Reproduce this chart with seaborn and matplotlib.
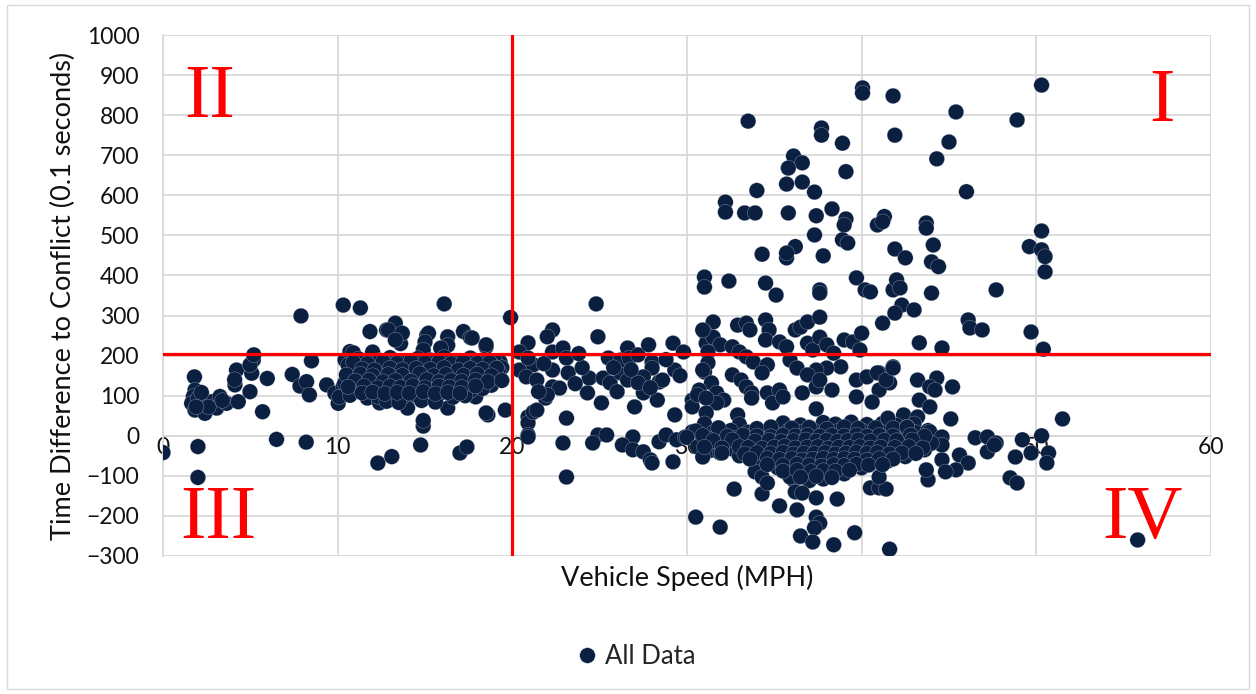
import matplotlib
matplotlib.use("Agg")
import matplotlib.pyplot as plt
import seaborn as sns
import pandas as pd
from matplotlib.patches import Rectangle

# (speed in MPH, time difference to conflict in 0.1 s)
slow_points = [
    (0.0, -42), (2.0, -27), (2.0, -104), (1.8, 147),
    (1.83, 114), (1.74, 98), (1.64, 81), (1.83, 64), (2.31, 81), (2.40, 56), (2.02, 94),
    (2.79, 85), (3.07, 69), (3.26, 98), (3.64, 81), (4.12, 127), (4.21, 164), (4.31, 85),
    (4.98, 110), (5.08, 156), (5.17, 189), (4.98, 177), (5.2, 202),
    (2.2, 108), (2.6, 72), (1.9, 72), (3.4, 88), (4.1, 140),
    (5.97, 143), (5.7, 60), (6.5, -9), (7.4, 153), (7.9, 299), (7.84, 124), (8.22, 135),
    (8.38, 102), (8.2, -16), (8.5, 187),
    (9.37, 127), (9.84, 106), (10.03, 81), (10.32, 123), (10.42, 189), (10.32, 326),
    (10.7, 210), (11.3, 319), (11.85, 260),
    (10.9, 207), (10.9, 114), (11.7, 94), (12.3, -68), (13.1, -52), (12.8, 264), (13.3, 281),
    (13.5, 245), (13.6, 230), (16.1, 329), (14.75, -23), (14.9, 24), (14.9, 38), (15.1, 251),
    (16.3, 247), (17.2, 260), (17.6, 245), (18.5, 222), (17.0, -43), (17.4, -28), (16.3, 69),
    (18.6, 52), (19.9, 295), (12.9, 264), (13.7, 256), (13.3, 239), (15.2, 256), (15.0, 234),
    (16.3, 226), (17.7, 244), (18.5, 227), (12.0, 209), (14.9, 214), (15.9, 219), (19.3, 184),
    (18.5, 57), (19.6, 64), (12.4, 82), (14.0, 69), (17.9, 97), (10.1, 97),
]

slow_band = [
    (11.2, 192), (12.4, 188), (13.0, 195), (13.8, 186), (14.6, 193), (15.3, 189), (16.1, 196),
    (16.8, 187), (17.6, 194), (18.4, 190), (19.0, 186),
    (10.6, 176), (11.8, 172), (12.9, 178), (13.5, 171), (14.2, 177), (15.0, 174), (15.7, 179),
    (16.5, 170), (17.3, 176), (18.0, 173), (18.8, 178), (19.4, 170),
    (11.0, 160), (12.2, 157), (12.7, 163), (13.3, 158), (13.9, 162), (14.5, 156), (15.2, 161),
    (15.9, 159), (16.6, 164), (17.0, 155), (17.8, 160), (18.6, 158), (19.2, 162),
    (10.8, 146), (11.5, 143), (12.5, 148), (13.1, 142), (13.6, 147), (14.3, 144), (14.9, 149),
    (15.6, 141), (16.3, 146), (16.9, 143), (17.5, 148), (18.2, 145), (19.0, 141),
    (10.4, 131), (11.3, 128), (12.0, 133), (12.8, 127), (13.4, 132), (14.0, 129), (14.7, 134),
    (15.4, 126), (16.0, 131), (16.7, 128), (17.4, 133), (18.1, 130), (18.8, 126),
    (11.0, 116), (11.9, 113), (12.6, 118), (13.2, 112), (13.9, 117), (14.6, 114), (15.3, 119),
    (16.0, 111), (16.8, 116), (17.6, 113), (18.3, 118),
    (10.7, 101), (12.3, 98), (13.0, 103), (13.7, 97), (14.4, 102), (15.1, 99), (15.8, 104),
    (16.6, 96), (17.3, 100),
    (12.8, 86), (13.5, 83), (14.8, 88), (15.6, 84),
]

slow_band_fill = [
    (10.9, 183), (11.7, 180), (12.6, 185), (13.4, 181), (14.2, 186), (15.0, 182), (15.8, 184),
    (16.5, 180), (17.2, 185), (18.0, 181), (18.7, 183),
    (11.4, 167), (12.1, 164), (13.0, 169), (13.7, 165), (14.5, 168), (15.3, 166), (16.1, 170),
    (16.9, 164), (17.6, 168), (18.3, 166), (19.1, 169),
    (10.5, 152), (11.3, 154), (12.0, 150), (12.9, 153), (13.7, 151), (14.7, 155), (15.5, 150),
    (16.2, 153), (17.2, 151), (18.0, 154), (18.8, 150),
    (11.0, 137), (11.8, 139), (12.6, 135), (13.3, 138), (14.2, 136), (15.1, 140), (15.8, 135),
    (16.5, 138), (17.1, 136), (17.9, 139), (18.6, 135), (19.4, 138),
    (10.6, 122), (11.5, 124), (12.3, 120), (13.0, 123), (13.6, 121), (14.3, 125), (15.0, 120),
    (15.8, 124), (16.4, 122), (17.1, 121), (17.9, 124),
    (11.4, 107), (12.0, 109), (12.7, 105), (13.4, 108), (14.1, 106), (14.9, 110), (15.6, 105),
    (16.3, 108), (17.0, 106),
]

mid_points = [
    (20.9, 232), (20.4, 164), (21.2, 177), (20.9, 47), (20.9, 32), (20.9, 2),
    (20.4, 209), (22.3, 264), (22.0, 247), (22.3, 209), (22.9, 219), (23.1, 194), (22.3, 164),
    (23.2, 157), (20.9, 194), (20.8, 147), (21.4, 139), (22.3, 122), (22.7, 119), (21.9, 94),
    (22.0, 102), (21.2, 59), (21.4, 64), (20.9, -3), (23.1, 44), (22.9, -18), (23.1, -103),
    (24.8, 329), (24.9, 247), (25.5, 194), (24.4, 144), (24.3, 107), (25.1, 82), (24.9, 2),
    (25.4, 2), (24.6, -18),
    (25.2, 144), (25.6, 132), (26.2, 157), (26.6, 139), (26.2, 189), (26.6, 219), (26.7, 194),
    (27.2, 202), (27.8, 227), (28.0, 184), (28.0, 169), (27.5, 147), (27.5, 107), (27.2, 132),
    (27.0, 72), (28.4, 134), (28.3, 89), (28.6, 139), (29.2, 231), (29.8, 209), (29.3, 164),
    (29.3, 52), (26.9, -3), (26.3, -23), (26.9, -35), (27.5, -40), (27.9, -60), (28.0, -68),
    (28.4, -15), (28.8, 2), (29.4, -10), (29.9, -3), (30.3, 10), (29.2, -65),
    (21.5, 110), (23.6, 130), (24.0, 170), (23.8, 205), (26.0, 110), (26.8, 165), (27.9, 120),
    (28.8, 190), (29.6, 150), (25.8, 170), (21.8, 180),
]

fast_upper = [
    (31.0, 396), (31.0, 371), (40.05, 868), (40.05, 855), (41.8, 848), (33.5, 785), (37.7, 768),
    (37.7, 750), (38.9, 730), (41.9, 750), (36.1, 698), (36.6, 681), (35.8, 668), (39.1, 659),
    (35.7, 628), (36.6, 633), (37.3, 608), (34.0, 612), (32.2, 583), (32.2, 558), (33.3, 556),
    (33.9, 556), (35.8, 556), (37.4, 549), (38.3, 566), (39.1, 541), (39.0, 526), (41.3, 547),
    (40.9, 526), (37.3, 501), (38.9, 489), (39.2, 481), (36.2, 472), (35.7, 444), (35.7, 456),
    (34.3, 453), (37.8, 449), (41.9, 466), (32.4, 386), (34.5, 381), (35.1, 351), (37.6, 364),
    (37.6, 356), (39.7, 394), (40.2, 364), (40.5, 359), (41.8, 364), (42.0, 389),
    (50.3, 875), (45.4, 808), (48.9, 788), (45.0, 733), (44.3, 691), (46.0, 609), (41.2, 534),
    (43.7, 531), (43.7, 518), (50.3, 511), (42.5, 444), (44.1, 476), (49.6, 472), (50.3, 464),
    (50.5, 447), (44.0, 434), (44.4, 422), (50.5, 409), (42.2, 369), (44.0, 356), (47.7, 364),
    (42.3, 326), (43.0, 314), (41.9, 306), (41.2, 281),
    (46.1, 289), (46.2, 269), (46.9, 264), (49.7, 259), (43.3, 232), (44.6, 219), (50.4, 216),
    (41.8, 172), (41.0, 157), (41.6, 132), (41.0, 114), (43.2, 139), (44.3, 144), (43.9, 122),
    (44.2, 114), (43.3, 89), (43.9, 72), (45.2, 122), (42.4, 52), (43.2, 47), (45.1, 42),
    (51.5, 42),
    (31.5, 284), (31.0, 259), (31.1, 231), (31.5, 246), (31.9, 227), (32.9, 276), (33.4, 281),
    (33.6, 264), (34.5, 289), (34.7, 264), (34.5, 239), (32.6, 222), (33.0, 209), (33.4, 197),
    (33.8, 184), (34.6, 177), (34.3, 157), (35.3, 234), (35.7, 222), (36.2, 264), (36.5, 271),
    (36.9, 284), (37.6, 296), (35.9, 189), (36.3, 169), (36.9, 231), (37.2, 214), (37.6, 246),
    (38.0, 227), (38.4, 206), (38.8, 172), (38.0, 169), (37.4, 164), (36.9, 152), (39.0, 239),
    (39.5, 234), (40.0, 256), (39.9, 214), (31.0, 159), (31.4, 132), (30.7, 114), (30.3, 89),
    (30.3, 72), (31.7, 107), (32.1, 89), (31.7, 82), (32.6, 152), (33.1, 139), (33.4, 122),
    (33.7, 107), (33.7, 94), (32.9, 52), (34.6, 107), (34.9, 82), (35.3, 114), (35.5, 97),
    (36.6, 107), (37.4, 122), (37.6, 139), (38.3, 114), (37.4, 67), (39.7, 97), (40.6, 84),
    (39.7, 139), (40.3, 147), (40.9, 157), (41.4, 139), (41.8, 169),
    (30.9, 264), (31.2, 209), (30.6, 102), (31.1, 57), (31.1, 94), (31.2, 182), (30.9, 164),
]

fast_band = [
    (31.0, 30), (33.0, 28), (35.5, 32), (36.5, 27), (37.8, 33), (38.5, 29), (39.4, 34),
    (40.3, 28), (41.2, 31), (42.0, 26), (43.0, 30),
    (30.5, 12), (31.5, 8), (32.5, 13), (33.5, 9), (34.2, 11), (35.0, 7), (35.8, 12), (36.6, 10),
    (37.2, 14), (37.9, 8), (38.6, 11), (39.3, 9), (40.0, 13), (40.7, 7), (41.5, 12), (42.3, 10),
    (43.1, 8), (43.8, 13),
    (30.0, -4), (31.2, -7), (32.0, -3), (32.8, -6), (33.6, -2), (34.4, -8), (35.1, -4),
    (35.7, -6), (36.3, -3), (36.9, -7), (37.5, -5), (38.1, -2), (38.7, -8), (39.3, -4),
    (39.9, -6), (40.5, -3), (41.1, -7), (41.8, -5), (42.6, -2), (43.4, -8), (44.2, -4),
    (30.8, -21), (31.7, -18), (32.4, -23), (33.2, -19), (34.0, -22), (34.7, -17), (35.4, -21),
    (36.0, -24), (36.6, -18), (37.2, -20), (37.8, -23), (38.4, -19), (39.0, -22), (39.6, -17),
    (40.2, -21), (40.9, -24), (41.6, -18), (42.4, -20), (43.2, -23), (44.0, -19),
    (31.4, -36), (32.6, -33), (33.8, -38), (34.5, -34), (35.2, -37), (35.8, -32), (36.4, -36),
    (37.0, -39), (37.6, -33), (38.2, -35), (38.8, -38), (39.4, -32), (40.0, -36), (40.6, -34),
    (41.3, -37), (42.0, -33), (42.8, -36), (43.6, -35),
    (33.0, -50), (34.2, -48), (34.9, -53), (35.6, -49), (36.2, -52), (36.8, -47), (37.4, -51),
    (38.0, -54), (38.6, -48), (39.2, -50), (39.8, -53), (40.4, -47), (41.0, -51), (41.8, -49),
    (42.5, -52),
    (34.0, -65), (35.0, -62), (35.8, -67), (36.5, -64), (37.1, -68), (37.7, -63), (38.3, -66),
    (38.9, -62), (39.5, -67), (40.1, -64), (40.8, -65), (41.5, -63),
    (35.2, -80), (36.0, -83), (36.8, -78), (37.5, -81), (38.1, -84), (38.7, -79), (39.3, -82),
    (40.0, -80),
    (35.8, -95), (36.6, -98), (37.4, -94), (38.2, -97), (39.0, -95),
    (36.1, -110), (37.0, -112), (37.8, -108),
    (32.7, -133), (34.3, -145), (35.3, -175), (36.2, -140), (36.6, -143), (37.4, -155),
    (38.6, -158), (36.3, -185), (30.5, -203), (31.9, -228), (37.4, -203), (37.6, -218),
    (37.3, -230), (36.5, -250), (37.2, -265), (38.4, -272), (39.6, -242), (41.6, -283),
    (40.5, -130), (41.0, -130), (41.4, -133), (41.0, -103),
    (30.6, -28), (30.9, -53), (31.9, -43), (33.9, -90), (34.3, -103), (34.6, -118), (35.9, -103),
    (43.8, -110), (55.8, -260),
    (46.5, -5), (47.2, -3), (47.7, -18), (47.2, -40), (49.2, -10), (49.7, -43), (48.8, -53),
    (50.3, 0), (50.7, -43), (50.6, -68), (45.6, -48), (46.1, -68), (45.4, -85), (44.6, -60),
    (44.8, -90), (43.7, -85), (48.5, -105), (48.9, -118), (41.5, 44), (42.6, 22), (43.9, 10),
    (44.6, -3), (44.6, -23), (44.0, -18), (47.6, -23),
]

fast_band_fill = [
    (31.8, 20), (34.0, 18), (34.8, 22), (36.0, 19), (37.0, 21), (38.0, 17), (39.0, 22),
    (39.8, 18), (40.8, 20), (41.8, 19), (42.6, 21),
    (30.9, 1), (32.3, -1), (33.2, 2), (34.0, 0), (34.8, -2), (35.5, 1), (36.2, 0), (36.9, 2),
    (37.6, -1), (38.3, 1), (39.0, 0), (39.7, 2), (40.3, -1), (41.0, 1), (41.8, 0), (42.8, 2),
    (43.6, -1),
    (31.5, -12), (32.6, -10), (33.9, -13), (34.7, -11), (35.4, -14), (36.1, -12), (36.8, -10),
    (37.4, -13), (38.0, -11), (38.6, -14), (39.2, -12), (39.8, -10), (40.5, -13), (41.3, -11),
    (42.0, -12), (42.9, -10),
    (31.0, -28), (32.0, -30), (33.0, -27), (33.5, -29), (34.3, -31), (35.0, -28), (35.6, -26),
    (36.2, -30), (36.9, -28), (37.5, -27), (38.1, -31), (38.7, -28), (39.3, -29), (39.9, -27),
    (40.5, -30), (41.1, -28), (41.9, -29), (42.7, -27), (43.5, -30),
    (32.0, -43), (33.3, -45), (34.0, -42), (34.8, -44), (35.5, -41), (36.1, -45), (36.7, -43),
    (37.3, -44), (37.9, -42), (38.5, -45), (39.1, -43), (39.7, -41), (40.3, -44), (40.9, -42),
    (41.6, -45), (42.3, -43), (43.1, -44),
    (33.6, -58), (34.6, -56), (35.3, -59), (36.0, -57), (36.6, -60), (37.2, -58), (37.8, -56),
    (38.4, -59), (39.0, -57), (39.6, -58), (40.3, -60), (41.0, -57), (41.8, -58),
    (34.6, -72), (35.5, -74), (36.3, -71), (37.0, -73), (37.7, -75), (38.4, -72), (39.0, -74),
    (39.7, -71), (40.4, -73), (41.2, -72),
    (35.5, -88), (36.3, -86), (37.1, -89), (37.8, -87), (38.5, -88), (39.3, -86),
    (36.5, -103), (37.4, -101), (38.3, -104),
]

quadrant_labels = ["I", "II", "III", "IV"]
quadrant_pos = [(57.2, 832), (2.67, 842), (3.17, -210), (56.1, -208)]
speed_threshold = 20
time_threshold = 205

navy = "#0b1f41"
grid_grey = "#d9d9d9"

all_points = (slow_points + slow_band + slow_band_fill + mid_points
              + fast_upper + fast_band + fast_band_fill)
df = pd.DataFrame(all_points, columns=["speed", "tdc"])
df["series"] = "All Data"

sns.set_theme(style="white")
plt.rcParams["font.family"] = ["Lato", "DejaVu Sans"]

fig = plt.figure(figsize=(12.56, 6.94), dpi=100)
ax = fig.add_axes([163 / 1256, 1 - 556 / 694, (1211 - 163) / 1256, (556 - 35) / 694])

sns.scatterplot(data=df, x="speed", y="tdc", hue="series", palette=[navy], s=125,
                edgecolor="#c8d0dc", linewidth=0.2, ax=ax, zorder=3)

ax.set_xlim(0, 60)
ax.set_ylim(-300, 1000)
ax.set_xticks(range(0, 61, 10))
ax.set_yticks(range(-300, 1001, 100))
ax.grid(True, color=grid_grey, linewidth=1.3)
ax.set_axisbelow(True)
for side in ["top", "right"]:
    ax.spines[side].set_visible(False)
ax.spines["left"].set_color(grid_grey)
ax.spines["left"].set_linewidth(1.3)
ax.spines["bottom"].set_position(("data", 0))
ax.spines["bottom"].set_color(grid_grey)
ax.spines["bottom"].set_linewidth(1.3)
ax.tick_params(axis="both", length=0, labelsize=16.5, labelcolor="#111111")
ax.tick_params(axis="y", pad=17)
ax.tick_params(axis="x", pad=1)

ax.axvline(speed_threshold, color="red", linewidth=2.3, zorder=4)
ax.axhline(time_threshold, color="red", linewidth=2.3, zorder=4)

for label, (qx, qy) in zip(quadrant_labels, quadrant_pos):
    ax.text(qx, qy, label, fontsize=55, family="Liberation Serif", color="red",
            ha="center", va="center", zorder=5)

ax.set_xlabel("Vehicle Speed (MPH)", fontsize=19.5, color="#111111")
ax.xaxis.set_label_coords(0.5, -0.018)
ax.set_ylabel("Time Difference to Conflict (0.1 seconds)", fontsize=19.5, color="#111111")
ax.yaxis.set_label_coords(-0.083, 0.5)

handles, labels = ax.get_legend_handles_labels()
ax.legend(handles, labels, loc="center", bbox_to_anchor=(0.506, 1 - 656 / 694),
          bbox_transform=fig.transFigure, frameon=False, fontsize=18.5,
          handlelength=0.9, handletextpad=0.25, borderpad=0, markerscale=1.0)

fig.patches.append(Rectangle((7 / 1256, 1 - 689 / 694), (1249 - 7) / 1256, (689 - 5) / 694,
                             transform=fig.transFigure, fill=False, edgecolor=grid_grey,
                             linewidth=1.0))

fig.savefig("out.png", dpi=100)
